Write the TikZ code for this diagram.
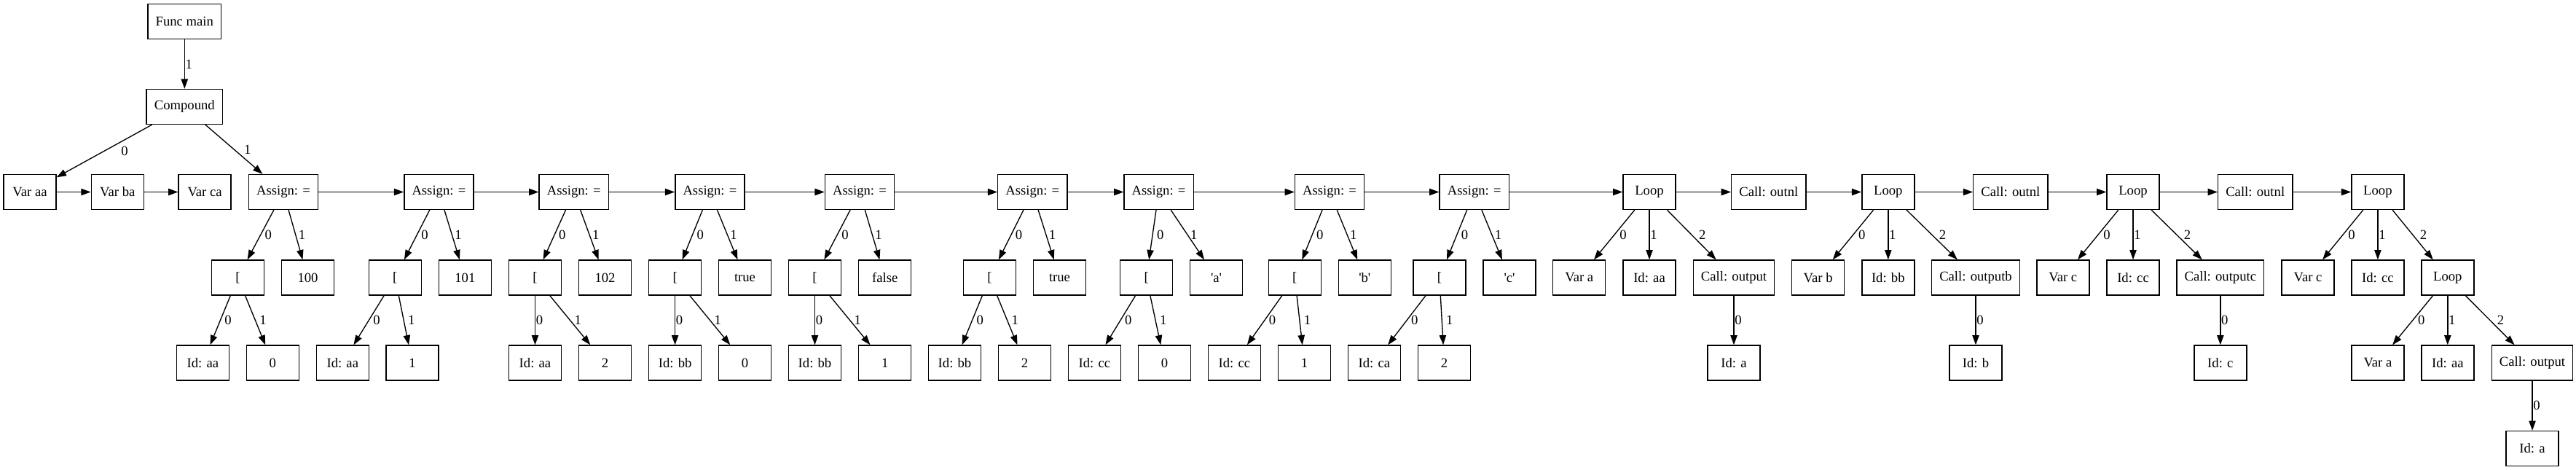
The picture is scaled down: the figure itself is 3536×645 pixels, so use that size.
\documentclass[tikz,border=0pt]{standalone}
\usepackage{fontspec}
\setmainfont{Liberation Serif}
\usetikzlibrary{arrows.meta}
\usetikzlibrary{positioning}
\newcommand{\gvfont}{\fontsize{14}{16}\selectfont}
\newcommand{\sq}{\textquotesingle}
\tikzset{astnode/.style = {draw, rectangle, line width = 1pt, minimum width = 54pt,
                           minimum height = 36pt, inner xsep = 8pt, inner ysep = 0pt,
                           font = \gvfont}}
\tikzset{link/.style = {line width = 1pt, -{Triangle[length = 10pt, width = 7pt]}}}
\tikzset{lbl/.style = {inner sep = 0, font = \gvfont, right = #1}, lbl/.default = 4pt}

\begin{document}
\begin{tikzpicture}[x = 0.75pt, y = -0.75pt]
    \useasboundingbox (0, 0) rectangle (3536, 645);

    \node [astnode] (fmain) at (253.3, 29.2) {Func main};
    \node [astnode] (cmp) at (253.3, 146.5) {Compound};
    \draw [link] (fmain) -- node [lbl = 0.5pt] {1} (cmp);

    % declarations
    \node [astnode] (vaa) at (41, 263.5) {Var aa};
    \node [astnode] (vba) at (161.3, 263.5) {Var ba};
    \node [astnode] (vca) at (281.1, 263.5) {Var ca};

    % assignments
    \foreach \i/\ax/\bx/\vx/\ix/\nx/\val/\idn/\num/\lo in {
        1/389/326.5/422.5/278.4/374.3/100/aa/0/4pt,
        2/602.4/542.3/638.4/470.3/566/101/aa/1/4pt,
        3/787.7/734.5/830.5/734.5/830.5/102/aa/2/0.5pt,
        4/974.4/926.6/1022.5/926.6/1022.5/true/bb/0/0.5pt,
        5/1180/1118.5/1214.7/1118.5/1214.7/false/bb/1/0.5pt,
        6/1417.3/1358.5/1454.5/1310.5/1406.6/true/bb/2/4pt,
        7/1590.6/1573.6/1669.5/1502.4/1598.5/\sq a\sq/cc/0/4pt,
        8/1825.1/1777.3/1873.3/1694.4/1790.5/\sq b\sq/cc/1/4pt,
        9/2023.7/1975.9/2072/1886.3/1982.5/\sq c\sq/ca/2/4pt} {
      \node [astnode] (as\i) at (\ax, 263.5) {Assign: =};
      \node [astnode] (ix\i) at (\bx, 381) {[};
      \node [astnode] (val\i) at (\vx, 381) {\val};
      \node [astnode] (id\i) at (\ix, 498) {Id: \idn};
      \node [astnode] (num\i) at (\nx, 498) {\num};
      \draw [link] (as\i) -- node [lbl] {0} (ix\i);
      \draw [link] (as\i) -- node [lbl = 2.5pt] {1} (val\i);
      \draw [link] (ix\i) -- node [lbl = \lo] {0} (id\i);
      \draw [link] (ix\i) -- node [lbl] {1} (num\i);
    }

    % loops and calls
    \node [astnode] (lp1) at (2264, 263.5) {Loop};
    \node [astnode] (out1) at (2427.8, 263.5) {Call: outnl};
    \node [astnode] (lp2) at (2591.8, 263.5) {Loop};
    \node [astnode] (out2) at (2759.9, 263.5) {Call: outnl};
    \node [astnode] (lp3) at (2928, 263.5) {Loop};
    \node [astnode] (out3) at (3095.7, 263.5) {Call: outnl};
    \node [astnode] (lp4) at (3263.9, 263.5) {Loop};

    \node [astnode] (lv1) at (2167.8, 381) {Var a};
    \node [astnode] (lid1) at (2264, 381) {Id: aa};
    \node [astnode] (call1) at (2380, 381) {Call: output};
    \node [astnode] (cid1) at (2380, 498) {Id: a};

    \node [astnode] (lv2) at (2495.6, 381) {Var b};
    \node [astnode] (lid2) at (2591.8, 381) {Id: bb};
    \node [astnode] (call2) at (2712, 381) {Call: outputb};
    \node [astnode] (cid2) at (2712, 498) {Id: b};

    \node [astnode] (lv3) at (2831.8, 381) {Var c};
    \node [astnode] (lid3) at (2928, 381) {Id: cc};
    \node [astnode] (call3) at (3047.8, 381) {Call: outputc};
    \node [astnode] (cid3) at (3047.8, 498) {Id: c};

    \node [astnode] (lv4) at (3168, 381) {Var c};
    \node [astnode] (lid4) at (3263.9, 381) {Id: cc};
    \node [astnode] (lp5) at (3359.8, 381) {Loop};
    \node [astnode] (lv5) at (3263.9, 498) {Var a};
    \node [astnode] (lid5) at (3359.8, 498) {Id: aa};
    \node [astnode] (call4) at (3476, 498) {Call: output};
    \node [astnode] (cid4) at (3476, 615.5) {Id: a};

    \draw [link] (cmp) -- node [lbl = 17pt] {0} (vaa);
    \draw [link] (cmp) -- node [lbl = 10pt] {1} (as1);

    \foreach \a/\b in {vaa/vba, vba/vca, as1/as2, as2/as3, as3/as4, as4/as5,
                       as5/as6, as6/as7, as7/as8, as8/as9, as9/lp1, lp1/out1,
                       out1/lp2, lp2/out2, out2/lp3, lp3/out3, out3/lp4}
      \draw [link] (\a) -- (\b);

    \foreach \l/\v/\d/\c in {lp1/lv1/lid1/call1, lp2/lv2/lid2/call2,
                             lp3/lv3/lid3/call3, lp4/lv4/lid4/lp5,
                             lp5/lv5/lid5/call4} {
      \draw [link] (\l) -- node [lbl = 5pt] {0} (\v);
      \draw [link] (\l) -- node [lbl = 0.5pt] {1} (\d);
      \draw [link] (\l) -- node [lbl = 7pt] {2} (\c);
    }

    \foreach \c/\d in {call1/cid1, call2/cid2, call3/cid3, call4/cid4}
      \draw [link] (\c) -- node [lbl = 0.5pt] {0} (\d);
\end{tikzpicture}
\end{document}
